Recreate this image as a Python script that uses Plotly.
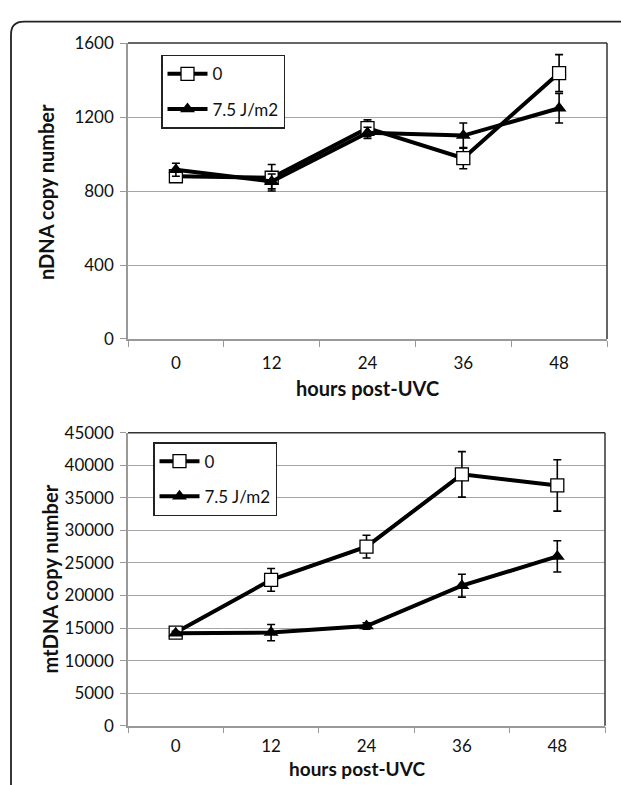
import plotly.graph_objects as go

hours = ["0", "12", "24", "36", "48"]

# nDNA copy number (top panel)
ndna_ctrl = [880, 872, 1140, 978, 1438]
ndna_ctrl_err = [20, 72, 45, 57, 100]
ndna_uv = [915, 852, 1115, 1100, 1248]
ndna_uv_err = [35, 40, 30, 68, 80]

# mtDNA copy number (bottom panel)
mtdna_ctrl = [14300, 22400, 27500, 38600, 36900]
mtdna_ctrl_err = [300, 1750, 1750, 3500, 3950]
mtdna_uv = [14200, 14300, 15300, 21500, 26000]
mtdna_uv_err = [300, 1250, 500, 1750, 2400]

series_names = ["0", "7.5 J/m2"]

W, H = 621, 785
FONT = "Lato"

def px_x(p):
    return p / W

def px_y(p):
    return 1 - p / H

fig = go.Figure()

def add_pair(xa, ya, leg, c, ce, u, ue):
    fig.add_trace(go.Scatter(
        x=hours, y=c, name=series_names[0], xaxis=xa, yaxis=ya, legend=leg,
        legendgroup=leg + "a", mode="lines+markers",
        line=dict(color="black", width=4),
        marker=dict(symbol="square", size=13, color="white",
                    line=dict(color="black", width=1.3)),
        error_y=dict(type="data", array=ce, visible=True, color="black",
                     thickness=1.6, width=4),
    ))
    fig.add_trace(go.Scatter(
        x=hours, y=u, name=series_names[1], xaxis=xa, yaxis=ya, legend=leg,
        legendgroup=leg + "b", mode="lines+markers",
        line=dict(color="black", width=4),
        marker=dict(symbol="triangle-up", size=13, color="black"),
        error_y=dict(type="data", array=ue, visible=True, color="black",
                     thickness=1.6, width=4),
    ))

add_pair("x", "y", "legend", ndna_ctrl, ndna_ctrl_err, ndna_uv, ndna_uv_err)
add_pair("x2", "y2", "legend2", mtdna_ctrl, mtdna_ctrl_err, mtdna_uv, mtdna_uv_err)

tickfont = dict(family=FONT, size=17, color="#111")
xcommon = dict(type="category", range=[-0.5, 4.5], tickson="boundaries",
               ticks="outside", ticklen=6, tickcolor="#999", showline=True,
               linecolor="#999", linewidth=1.5, showgrid=False, zeroline=False,
               tickfont=tickfont, fixedrange=True)
ycommon = dict(ticks="outside", ticklen=6, tickcolor="#999", showline=True,
               linecolor="#999", linewidth=1.5, showgrid=True,
               gridcolor="#a6a6a6", gridwidth=1, zeroline=False,
               tickfont=tickfont, tickformat="d", ticklabelstandoff=3)

legcommon = dict(bgcolor="white", bordercolor="#222", borderwidth=1.5,
                 font=dict(family=FONT, size=17, color="#111"),
                 xanchor="left", yanchor="top", tracegroupgap=10,
                 itemwidth=40)

fig.update_layout(
    width=W, height=H,
    margin=dict(l=0, r=0, t=0, b=0),
    paper_bgcolor="white", plot_bgcolor="white",
    showlegend=True,
    xaxis=dict(domain=[px_x(128), px_x(607)], anchor="y",
               ticklabelstandoff=8, **xcommon),
    yaxis=dict(domain=[px_y(337), px_y(33)], anchor="x", range=[0, 1600],
               dtick=400, **ycommon),
    xaxis2=dict(domain=[px_x(128), px_x(605)], anchor="y2",
                ticklabelstandoff=4, **xcommon),
    yaxis2=dict(domain=[px_y(734.3), px_y(433.3)], anchor="x2",
                range=[0, 45000], dtick=5000, **ycommon),
    legend=dict(x=px_x(161), y=px_y(45), **legcommon),
    legend2=dict(x=px_x(153), y=px_y(443), **legcommon),
)

# dark top/right plot-area borders
for xr, yr in (("x domain", "y domain"), ("x2 domain", "y2 domain")):
    fig.add_shape(type="line", xref=xr, yref=yr, x0=0, x1=1, y0=1, y1=1,
                  line=dict(color="#333", width=1.5))
    fig.add_shape(type="line", xref=xr, yref=yr, x0=1, x1=1, y0=0, y1=1,
                  line=dict(color="#333", width=1.5))

# rounded outer panel frame
x0, y0, r = px_x(11), px_y(11), 13
fig.add_shape(type="path", xref="paper", yref="paper",
              path=(f"M {x0},{-0.1} L {x0},{px_y(11 + r)} "
                    f"Q {x0},{y0} {px_x(11 + r)},{y0} L 1.1,{y0}"),
              line=dict(color="#222", width=1.8))

titlefont = dict(family=FONT, size=20, color="#111")
annots = [
    dict(text="<b>nDNA copy number</b>", x=px_x(46), y=px_y(186), textangle=-90),
    dict(text="<b>hours post-UVC</b>", x=px_x(367), y=px_y(387), textangle=0),
    dict(text="<b>mtDNA copy number</b>", x=px_x(50), y=px_y(584), textangle=-90),
    dict(text="<b>hours post-UVC</b>", x=px_x(357), y=px_y(778), textangle=0,
         font=dict(family=FONT, size=19, color="#111")),
]
for a in annots:
    a.setdefault("font", titlefont)
    fig.add_annotation(xref="paper", yref="paper", showarrow=False,
                       xanchor="center", yanchor="middle", **a)

fig.write_html("out.html")
